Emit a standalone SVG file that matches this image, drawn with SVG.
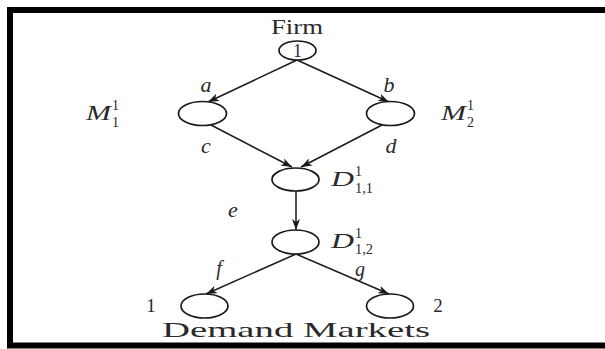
<svg xmlns="http://www.w3.org/2000/svg" width="605" height="349" viewBox="0 0 605 349">
<style>
.node ellipse{fill:#fff;stroke:#1a1a1a;stroke-width:1.7}
.rm{font-family:"Liberation Serif","Times New Roman",serif;fill:#2a2a2a}
.it{font-family:"Liberation Serif","Times New Roman",serif;font-style:italic;fill:#2a2a2a}
.sc{font-family:"Liberation Serif","Times New Roman",serif;fill:#2a2a2a;font-size:14px}
#connectors line{stroke:#1a1a1a;stroke-width:1.5;marker-end:url(#arr)}
</style>
<defs>
<marker id="arr" markerUnits="userSpaceOnUse" markerWidth="12" markerHeight="8" refX="11" refY="4" orient="auto">
<path d="M0,0 L11,4 L0,8 L3,4 Z" fill="#1a1a1a"/>
</marker>
</defs>
<rect x="0" y="0" width="605" height="349" fill="#fff"/>
<rect x="10" y="10" width="620" height="335.5" fill="none" stroke="#000" stroke-width="6"/>

<g id="connectors">
<line x1="297" y1="60" x2="208" y2="102"/>
<line x1="297" y1="60" x2="389" y2="102"/>
<line x1="211" y1="125" x2="292" y2="167"/>
<line x1="382" y1="125" x2="301" y2="167"/>
<line x1="296" y1="191" x2="296" y2="230"/>
<line x1="296" y1="254" x2="206" y2="294"/>
<line x1="296" y1="254" x2="389" y2="294"/>
</g>
<g id="edge-labels">
<text class="it" x="206" y="92" font-size="22" text-anchor="middle">a</text>
<text class="it" x="389" y="92" font-size="22" text-anchor="middle">b</text>
<text class="it" x="206" y="153" font-size="22" text-anchor="middle">c</text>
<text class="it" x="391" y="153" font-size="22" text-anchor="middle">d</text>
<text class="it" x="233" y="217" font-size="22" text-anchor="middle">e</text>
<text class="it" x="219" y="275" font-size="20" text-anchor="middle">f</text>
<text class="it" x="360" y="276" font-size="20" text-anchor="middle">g</text>
</g>

<g id="firm">
<text class="rm" x="297" y="34" font-size="20" text-anchor="middle" textLength="52" lengthAdjust="spacingAndGlyphs">Firm</text>
<g class="node"><ellipse cx="297.5" cy="50.5" rx="18.5" ry="9.5"/></g>
<text class="rm" x="297.5" y="57" font-size="18" text-anchor="middle">1</text>
</g>

<g id="M1">
<g class="node"><ellipse cx="202.5" cy="113.5" rx="24" ry="12"/></g>
<text class="it" x="86" y="120" font-size="21" textLength="25" lengthAdjust="spacingAndGlyphs">M</text>
<text class="sc" x="112" y="110">1</text>
<text class="sc" x="112" y="127">1</text>
</g>

<g id="M2">
<g class="node"><ellipse cx="390.5" cy="113.5" rx="24" ry="12"/></g>
<text class="it" x="441" y="120" font-size="21" textLength="25" lengthAdjust="spacingAndGlyphs">M</text>
<text class="sc" x="467" y="110">1</text>
<text class="sc" x="467" y="127">2</text>
</g>

<g id="D11">
<g class="node"><ellipse cx="295.5" cy="179.5" rx="23.5" ry="11.5"/></g>
<text class="it" x="331" y="186" font-size="21" textLength="23" lengthAdjust="spacingAndGlyphs">D</text>
<text class="sc" x="355" y="176">1</text>
<text class="sc" x="355" y="193" textLength="18" lengthAdjust="spacingAndGlyphs">1,1</text>
</g>

<g id="D12">
<g class="node"><ellipse cx="295.5" cy="242" rx="23.5" ry="12"/></g>
<text class="it" x="331" y="248" font-size="21" textLength="23" lengthAdjust="spacingAndGlyphs">D</text>
<text class="sc" x="355" y="238">1</text>
<text class="sc" x="355" y="254" textLength="18" lengthAdjust="spacingAndGlyphs">1,2</text>
</g>

<g id="market1">
<g class="node"><ellipse cx="204.5" cy="306" rx="23.5" ry="12"/></g>
<text class="rm" x="151" y="312" font-size="19" text-anchor="middle">1</text>
</g>

<g id="market2">
<g class="node"><ellipse cx="390" cy="306" rx="23.5" ry="12"/></g>
<text class="rm" x="438" y="312" font-size="19" text-anchor="middle">2</text>
</g>

<g id="demand-markets">
<text class="rm" x="162" y="337" font-size="21" textLength="268" lengthAdjust="spacingAndGlyphs">Demand Markets</text>
</g>
</svg>
